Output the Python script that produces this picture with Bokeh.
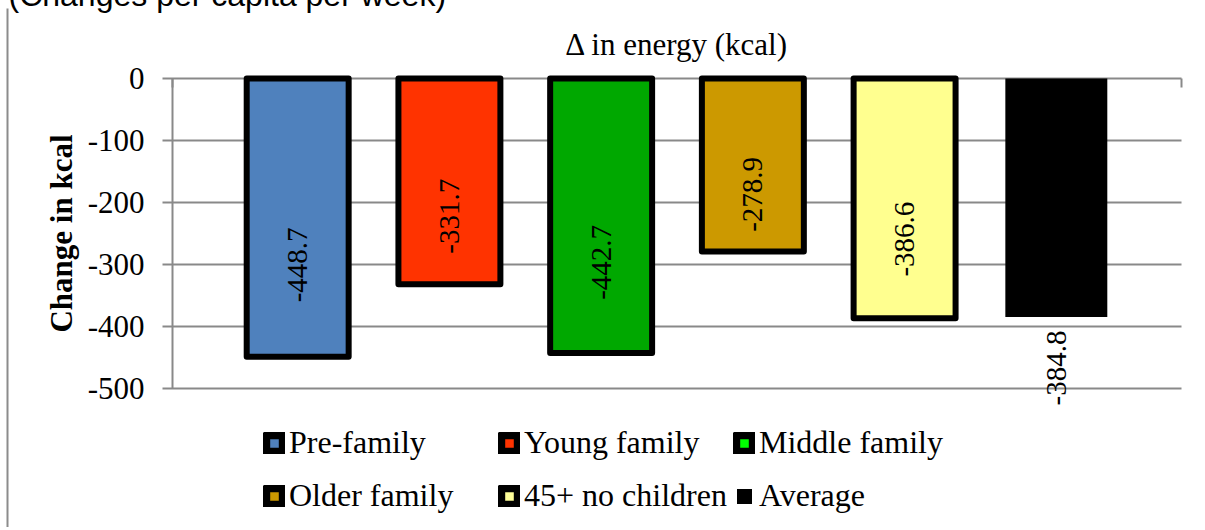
import math
from bokeh.plotting import figure
from bokeh.models import (ColumnDataSource, Range1d, FixedTicker, LinearAxis,
                          Legend, LegendItem, Label, BoxAnnotation)
from bokeh.core.properties import value
from bokeh.embed import file_html
from bokeh.resources import INLINE

# ---- data ----
categories = ["Pre-family", "Young family", "Middle family", "Older family", "45+ no children", "Average"]
energy_change = [-448.7, -331.7, -442.7, -278.9, -386.6, -384.8]
bar_colors = ["#4F81BD", "#FF3300", "#00A800", "#CC9900", "#FFFF8F", "#000000"]
legend_colors = ["#4F81BD", "#FF3300", "#00FF00", "#CC9900", "#FFFF99", "#000000"]
y_ticks = [0, -100, -200, -300, -400, -500]
y_lo, y_hi = -500, 0

# ---- layout (page pixels) ----
W, H = 1208, 535            # canvas; shifted by -8px so it starts at the page corner
OFF = 8
PL, PR, PT, PB = 172, 1181, 78, 388   # plot area in page pixels
GRID = "#898989"
SERIF = "Liberation Serif"

n = len(categories)
xs = list(range(n))
pad = 0.825
is_avg = [c == "Average" for c in categories]

sxs = (PR - PL) / (n - 1 + 2 * pad)      # px per category unit
sys_ = (PB - PT) / (y_hi - y_lo)         # px per kcal


def px_x(page_x):
    return -pad + (page_x - PL) / sxs


def px_y(page_y):
    return y_hi - (page_y - PT) / sys_


p = figure(width=W, height=H,
           x_range=Range1d(px_x(-OFF), px_x(W - OFF)), y_range=Range1d(px_y(H - OFF), px_y(-OFF)),
           output_backend="svg", toolbar_location=None, title_location=None,
           x_axis_location=None, y_axis_location=None,
           min_border=0, min_border_left=0, min_border_right=0, min_border_top=0, min_border_bottom=0)
p.styles = {"margin-top": "-8px", "margin-left": "-8px"}
p.outline_line_color = None
p.xgrid.visible = False
p.ygrid.visible = False

src = ColumnDataSource(dict(
    x=xs, top=energy_change, color=bar_colors, lcolor=legend_colors,
    lw=[0 if a else 6 for a in is_avg],
    ly=[v - 51 / sys_ if a else v * 0.67 for v, a in zip(energy_change, is_avg)],
    txt=[f"{v:.1f}" for v in energy_change],
))
p.vbar(x="x", top="top", bottom=0, width=0.672, source=src, fill_color="color",
       line_color="black", line_width="lw", line_join="round")

# hidden renderers that only supply the legend swatches
sw_framed = p.vbar(x="x", top="top", bottom=0, width=0.672, source=src, fill_color="lcolor",
                   line_color="black", line_width=9)
sw_solid = p.vbar(x="x", top="top", bottom=0, width=0.672, source=src, fill_color="lcolor",
                  line_color="white", line_width=2.6)
for r in (sw_framed, sw_solid):
    r.visible = False

p.text(x="x", y="ly", text="txt", angle=math.pi / 2, source=src,
       text_align="center", text_baseline="middle",
       text_font=value("Liberation Sans Narrow"), text_font_size="29px", text_color="black")

# y axis (gridlines drawn as long inward ticks)
ya = LinearAxis(fixed_location=-pad, bounds=(y_lo, y_hi), ticker=FixedTicker(ticks=y_ticks),
                major_label_overrides={t: str(t) for t in y_ticks},
                axis_line_color=GRID, axis_line_width=2,
                major_tick_line_color=GRID, major_tick_line_width=2,
                major_tick_out=10, major_tick_in=PR - PL, minor_tick_line_color=None,
                major_label_text_font=SERIF, major_label_text_font_size="31px",
                major_label_text_color="black", major_label_standoff=18,
                axis_label="Change in kcal", axis_label_text_font=SERIF,
                axis_label_text_font_size="31px", axis_label_text_font_style="bold",
                axis_label_text_color="black", axis_label_standoff=6, level="underlay")
p.add_layout(ya, "left")

xa = LinearAxis(fixed_location=y_hi, bounds=(-pad, n - 1 + pad), ticker=FixedTicker(ticks=[-pad, n - 1 + pad]),
                axis_line_color=None, major_tick_line_color=GRID, major_tick_line_width=2,
                major_tick_in=9, major_tick_out=0, minor_tick_line_color=None,
                major_label_text_color=None, major_label_text_font_size="1px", level="underlay")
p.add_layout(xa, "above")

# legend: three columns of two rows
for c in range(3):
    items = [LegendItem(label=categories[i], index=i,
                        renderers=[sw_solid] if is_avg[i] else [sw_framed])
             for i in (c, c + 3)]
    leg = Legend(items=items, orientation="vertical",
                 location=(263 + OFF + 235 * c, H - (430 + OFF) - 84),
                 glyph_width=22, glyph_height=22, label_standoff=4, label_height=34, spacing=16,
                 padding=0, margin=0, border_line_color=None, background_fill_alpha=0,
                 label_text_font=SERIF, label_text_font_size="32px", label_text_color="black")
    p.add_layout(leg)

# title, header note, left border line
p.add_layout(Label(x=(n - 1) / 2, y=px_y(44), text="\u0394 in energy (kcal)",
                   text_align="center", text_baseline="alphabetic",
                   text_font=SERIF, text_font_size="31px", text_color="black"))
p.add_layout(Label(x=px_x(8), y=px_y(-6), text="(Changes per capita per week)",
                   text_align="left", text_baseline="alphabetic",
                   text_font="Liberation Sans", text_font_size="32px", text_color="black"))
p.add_layout(BoxAnnotation(left=px_x(6), right=px_x(8), top=px_y(8),
                           fill_color="#8c8c8c", fill_alpha=1, line_color=None))

open("out.html", "w").write(file_html(p, INLINE))
